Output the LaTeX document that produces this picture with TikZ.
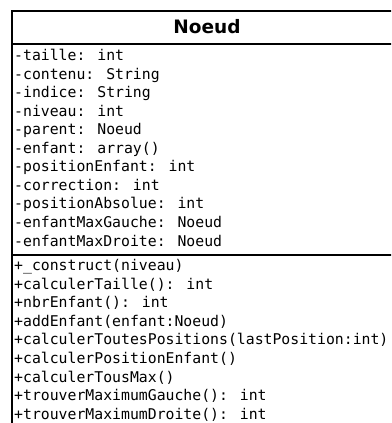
\documentclass[tikz,border=0pt]{standalone}
\usepackage{fontspec}
\newfontfamily\monof{DejaVu Sans Mono}
\newfontfamily\titlef{DejaVu Sans}
\begin{document}
\begin{tikzpicture}[x=1pt,y=-1pt,
  frame/.style={draw=black,line width=2pt},
  membertext/.style={inner sep=0pt,anchor=base west,font=\monof\fontsize{14.8}{18.5}\selectfont,text=black},
  titletext/.style={inner sep=0pt,anchor=base,font=\titlef\bfseries\fontsize{18.5}{22}\selectfont,text=black}]
\useasboundingbox (0,0) rectangle (391,423);
\clip (0,0) rectangle (391,423);
\fill[white] (0,0) rectangle (391,423);
\draw[frame] (12,11) rectangle (403,432);
\draw[frame] (12,44) -- (403,44);
\draw[frame] (12,254.5) -- (403,254.5);
\node[titletext] (title) at (207,33) {Noeud};
\foreach \t [count=\i] in {-taille: int,-contenu: String,-indice: String,-niveau: int,-parent: Noeud,-enfant: array(),-positionEnfant: int,-correction: int,-positionAbsolue: int,-enfantMaxGauche: Noeud,-enfantMaxDroite: Noeud}
  \node[membertext] (a\i) at (14,{60.5+(\i-1)*18.55}) {\t};
\foreach \t [count=\i] in {+\_construct(niveau),+calculerTaille(): int,+nbrEnfant(): int,+addEnfant(enfant:Noeud),+calculerToutesPositions(lastPosition:int),+calculerPositionEnfant(),+calculerTousMax(),+trouverMaximumGauche(): int,+trouverMaximumDroite(): int}
  \node[membertext] (m\i) at (14,{270.5+(\i-1)*18.6}) {\t};
\end{tikzpicture}
\end{document}
